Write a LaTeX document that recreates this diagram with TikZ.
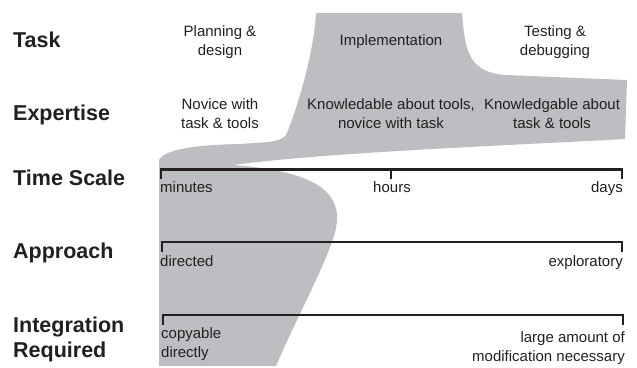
\documentclass[tikz,border=0pt]{standalone}
\usepackage{fontspec}
\setmainfont{Liberation Sans}
\usetikzlibrary{positioning}
\definecolor{CShade}{HTML}{BDBEC1}
\definecolor{CInk}{HTML}{231F20}

\begin{document}
\begin{tikzpicture}[x=1pt, y=-1pt,
    every node/.style={inner sep=0pt, text=CInk},
    rowlabel/.style={anchor=base west, align=left, font=\fontsize{21.5}{25}\selectfont\bfseries},
    phase/.style={anchor=base, align=center, font=\fontsize{15}{19}\selectfont},
    scalelabel/.style={font=\fontsize{15}{19}\selectfont},
    scaleline/.style={line width=2.4pt, CInk}]
    \useasboundingbox (0,0) rectangle (637,367);

    % Shaded band (path through the phases)
    \fill[CShade] (316,13) -- (462,13)
        .. controls (465,50) and (468,72) .. (505,75)
        -- (627,80) -- (625,139)
        .. controls (520,145) and (330,152) .. (233,165)
        .. controls (300,170) and (340,185) .. (337,222)
        .. controls (334,250) and (300,310) .. (276,366)
        -- (159,366) -- (159,160)
        .. controls (165,150) and (190,145) .. (240,144)
        -- (268,142)
        .. controls (282,140) and (286,137) .. (287,133)
        .. controls (300,100) and (314,50) .. (316,13) -- cycle;

    % Row labels (base = last line)
    \node[rowlabel] (task) at (13,47) {Task};
    \node[rowlabel] (expertise) at (13,120) {Expertise};
    \node[rowlabel] (timescale) at (13,185) {Time Scale};
    \node[rowlabel] (approach) at (13,258) {Approach};
    \node[rowlabel] (integration) at (13,357) {Integration\\Required};

    % Task phases
    \node[phase] (planning) at (220,55) {Planning \&\\design};
    \node[phase] (implementation) at (391,45) {Implementation};
    \node[phase] (testing) at (555,55) {Testing \&\\debugging};

    % Expertise per phase
    \node[phase] (novice) at (220,128) {Novice with\\task \& tools};
    \node[phase] (knowtools) at (391,128) {Knowledable about tools,\\novice with task};
    \node[phase] (knowboth) at (552,128) {Knowledgable about\\task \& tools};

    % Time scale
    \coordinate (ts-l) at (161,169.5);
    \coordinate (ts-m) at (391,169.5);
    \coordinate (ts-r) at (622,169.5);
    \draw[scaleline] ([yshift=-9pt]ts-l) -- (ts-l) -- (ts-r) -- ([yshift=-9pt]ts-r);
    \draw[scaleline] (ts-m) -- ([yshift=-9pt]ts-m);
    \node[scalelabel, anchor=base west] (minutes) at (160,192) {minutes};
    \node[scalelabel, anchor=base] (hours) at (392,192) {hours};
    \node[scalelabel, anchor=base east] (days) at (623,192) {days};

    % Approach
    \coordinate (ap-l) at (162,242);
    \coordinate (ap-r) at (622,242);
    \draw[scaleline] ([yshift=-10pt]ap-l) -- (ap-l) -- (ap-r) -- ([yshift=-10pt]ap-r);
    \node[scalelabel, anchor=base west] (directed) at (160,266) {directed};
    \node[scalelabel, anchor=base east] (exploratory) at (623,266) {exploratory};

    % Integration required
    \coordinate (in-l) at (163,315);
    \coordinate (in-r) at (623,315);
    \draw[scaleline] ([yshift=-10pt]in-l) -- (in-l) -- (in-r) -- ([yshift=-10pt]in-r);
    \node[scalelabel, anchor=base west, align=left] (copyable) at (161,357) {copyable\\directly};
    \node[scalelabel, anchor=base east, align=right] (modification) at (625,361) {large amount of\\modification necessary};
\end{tikzpicture}
\end{document}
